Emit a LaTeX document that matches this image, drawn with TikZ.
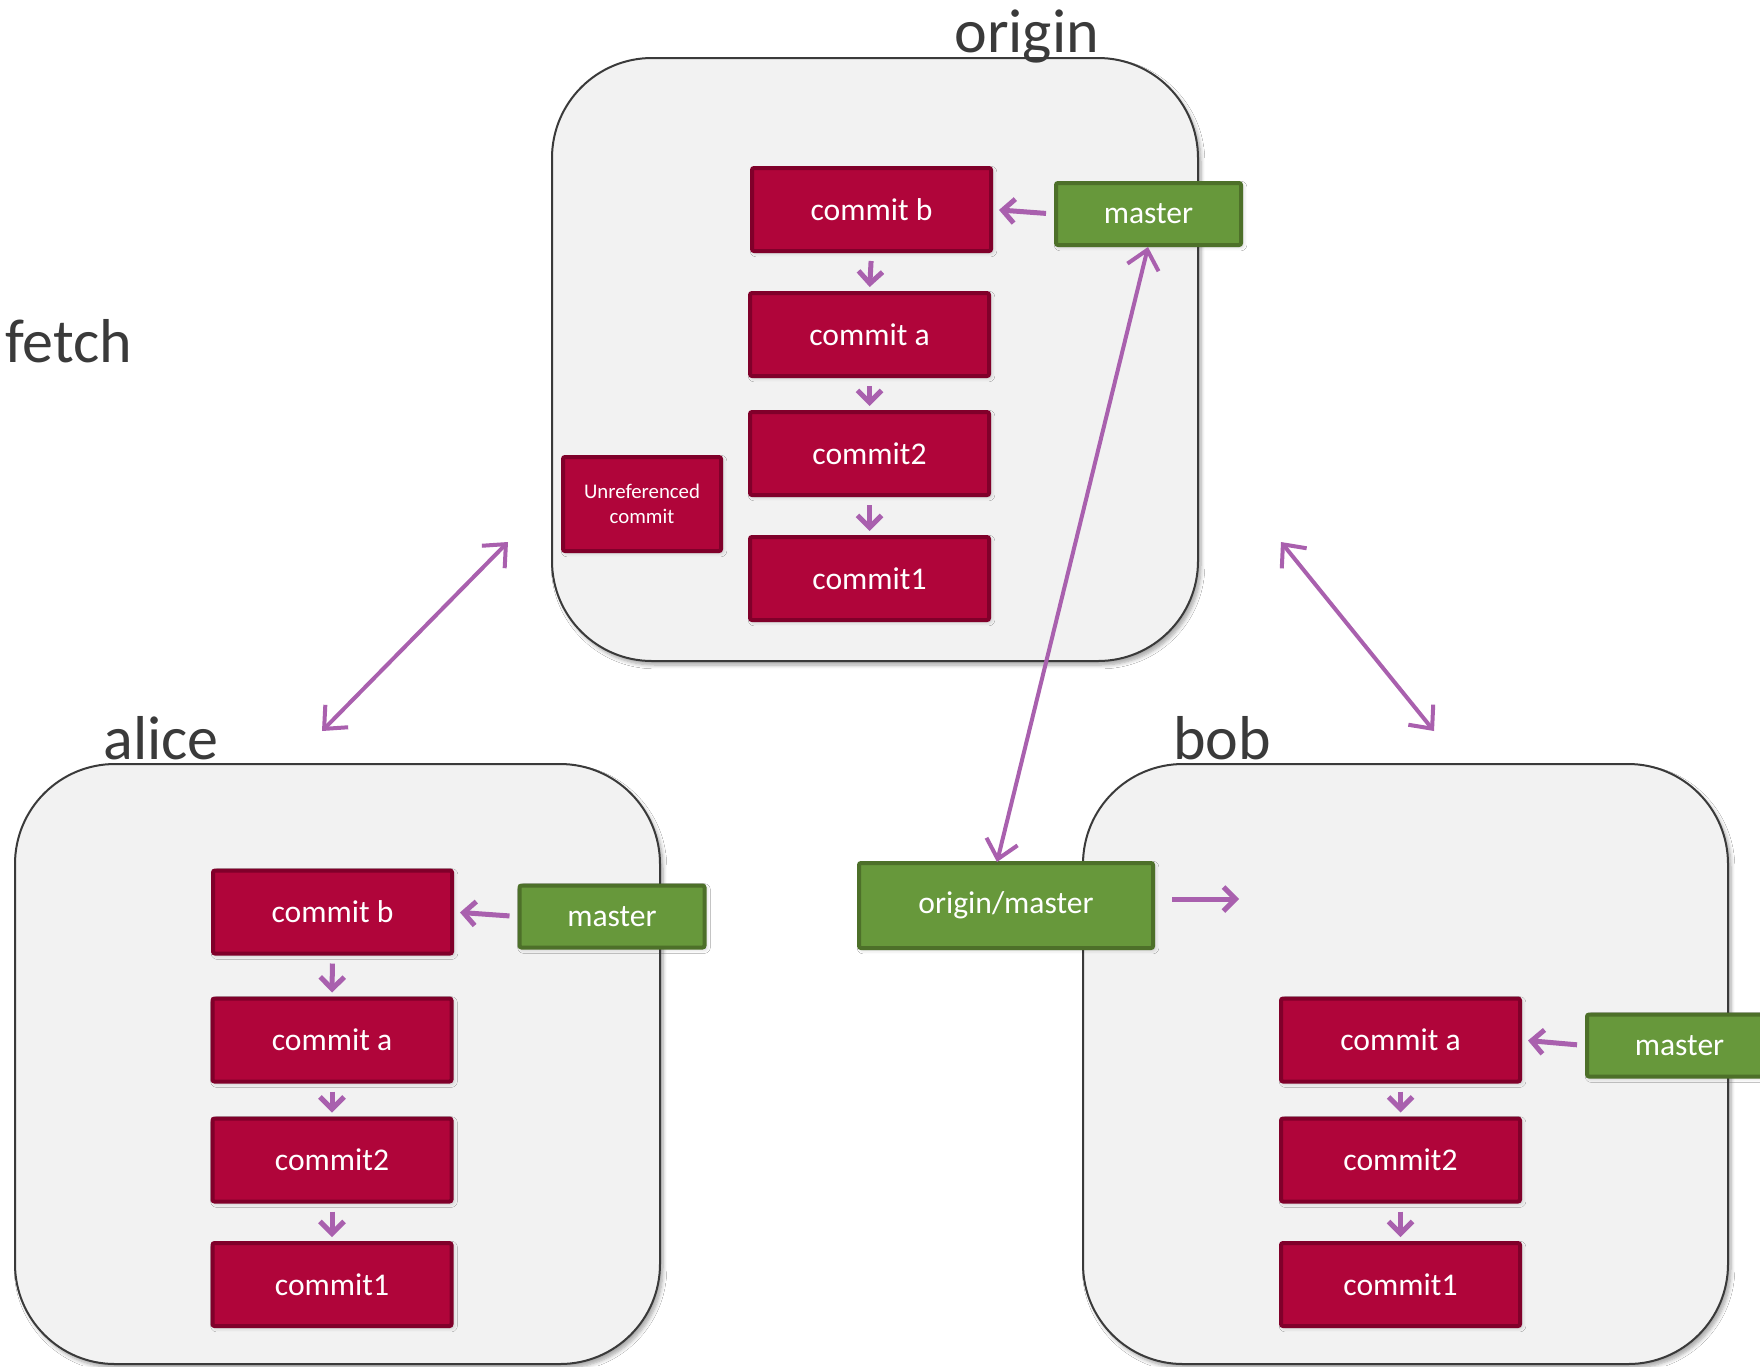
\documentclass[tikz,border=0pt]{standalone}
\usepackage{fontspec}
\setmainfont{Carlito}
\usetikzlibrary{arrows.meta,shadows.blur}
\definecolor{boxbg}{HTML}{F2F2F2}
\definecolor{boxline}{HTML}{3A3A3A}
\definecolor{cfill}{HTML}{B0053A}
\definecolor{cline}{HTML}{80002A}
\definecolor{gfill}{HTML}{67983B}
\definecolor{gline}{HTML}{4D7029}
\definecolor{purp}{HTML}{A960AE}
\definecolor{labelc}{HTML}{3A3A3A}
\begin{document}
\begin{tikzpicture}[x=0.5pt,y=-0.5pt,
  repo/.style={draw=boxline,line width=1pt,fill=boxbg,rounded corners=50pt,
    blur shadow={shadow xshift=1.5pt,shadow yshift=-2pt,shadow blur steps=6,shadow opacity=35}},
  commit/.style={draw=cline,line width=2pt,fill=cfill,rounded corners=1pt,
    text=white,font=\fontsize{15.8pt}{18pt}\selectfont,
    minimum width=119.5pt,minimum height=41.5pt,inner sep=0pt,
    blur shadow={shadow xshift=1pt,shadow yshift=-1pt,shadow blur steps=4,shadow opacity=20}},
  branch/.style={draw=gline,line width=2pt,fill=gfill,rounded corners=1pt,
    text=white,font=\fontsize{15.8pt}{18pt}\selectfont,
    minimum width=92.5pt,minimum height=31pt,inner sep=0pt,
    blur shadow={shadow xshift=1pt,shadow yshift=-1pt,shadow blur steps=4,shadow opacity=20}},
  lbl/.style={text=labelc,font=\fontsize{31pt}{36pt}\selectfont,anchor=base west,inner sep=0pt},
  arr/.style={draw=purp,line width=2.5pt,-{Straight Barb[length=6pt,width=12pt,line width=2.5pt]}},
  bigarr/.style={draw=purp,line width=2pt,{Straight Barb[length=9pt,width=16pt,line width=2pt]}-{Straight Barb[length=9pt,width=16pt,line width=2pt]}},
]
\useasboundingbox (0,0) rectangle (1760,1366);
\fill[white] (0,0) rectangle (1760,1366);

% repositories
\node[repo,minimum width=323pt,minimum height=301.5pt] (orepo) at (875,359.5) {};
\node[repo,minimum width=322.5pt,minimum height=300pt] (arepo) at (337.5,1064) {};
\node[repo,minimum width=322.5pt,minimum height=300pt] (brepo) at (1405.5,1064) {};

% labels
\node[lbl] (lorigin) at (954,52) {origin};
\node[lbl] (lalice) at (103,759) {alice};
\node[lbl] (lbob) at (1173,759) {bob};
\node[lbl] (lfetch) at (5,362) {fetch};

% origin
\node[commit] (ob) at (871.5,209.5) {commit b};
\node[commit] (oa) at (869.5,334.5) {commit a};
\node[commit] (o2) at (869.5,453.5) {commit2};
\node[commit] (o1) at (869.5,578.5) {commit1};
\node[commit,minimum width=79pt,minimum height=47pt,align=center,
  font=\fontsize{10.4pt}{12.5pt}\selectfont] (ou) at (642,504) {Unreferenced\\commit};
\node[branch] (om) at (1148.5,214) {master};

% alice
\node[commit] (ab) at (332.5,912) {commit b};
\node[commit] (aa) at (332,1040) {commit a};
\node[commit] (a2) at (332,1160) {commit2};
\node[commit] (a1) at (332,1284.5) {commit1};
\node[branch] (am) at (612,916.5) {master};

% bob
\node[commit] (ba) at (1400.5,1040) {commit a};
\node[commit] (b2) at (1400.5,1160) {commit2};
\node[commit] (b1) at (1400.5,1284.5) {commit1};
\node[branch] (bm) at (1679.5,1045.5) {master};

% origin/master
\node[branch,minimum width=147pt,minimum height=42.5pt] (oom) at (1006,905.5) {origin/master};

% small arrows
\draw[arr,shorten <=4pt,shorten >=2pt] (ob.south) -- (oa.north);
\draw[arr,shorten <=4pt,shorten >=2pt] (oa.south) -- (o2.north);
\draw[arr,shorten <=4pt,shorten >=2pt] (o2.south) -- (o1.north);
\draw[arr,shorten <=4pt,shorten >=3pt] (om.west) -- (ob.east);

\draw[arr,shorten <=4pt,shorten >=2pt] (ab.south) -- (aa.north);
\draw[arr,shorten <=4pt,shorten >=2pt] (aa.south) -- (a2.north);
\draw[arr,shorten <=4pt,shorten >=2pt] (a2.south) -- (a1.north);
\draw[arr,shorten <=4pt,shorten >=3pt] (am.west) -- (ab.east);

\draw[arr,shorten <=4pt,shorten >=2pt] (ba.south) -- (b2.north);
\draw[arr,shorten <=4pt,shorten >=2pt] (b2.south) -- (b1.north);
\draw[arr,shorten <=4pt,shorten >=3pt] (bm.west) -- (ba.east);

\coordinate (bobtgt) at (1239,899);
\draw[arr,shorten <=8.5pt] (oom.east |- bobtgt) -- (bobtgt);

% big arrows
\coordinate (aoA) at (322,731);
\coordinate (aoO) at (508,542);
\coordinate (boO) at (1281,542);
\coordinate (boB) at (1434,731);
\draw[bigarr] (aoA) -- (aoO);
\draw[bigarr] (boO) -- (boB);
\coordinate (omtop) at (1148,247);
\coordinate (oombot) at (997,862);
\draw[bigarr] (omtop) -- (oombot);
\end{tikzpicture}
\end{document}
